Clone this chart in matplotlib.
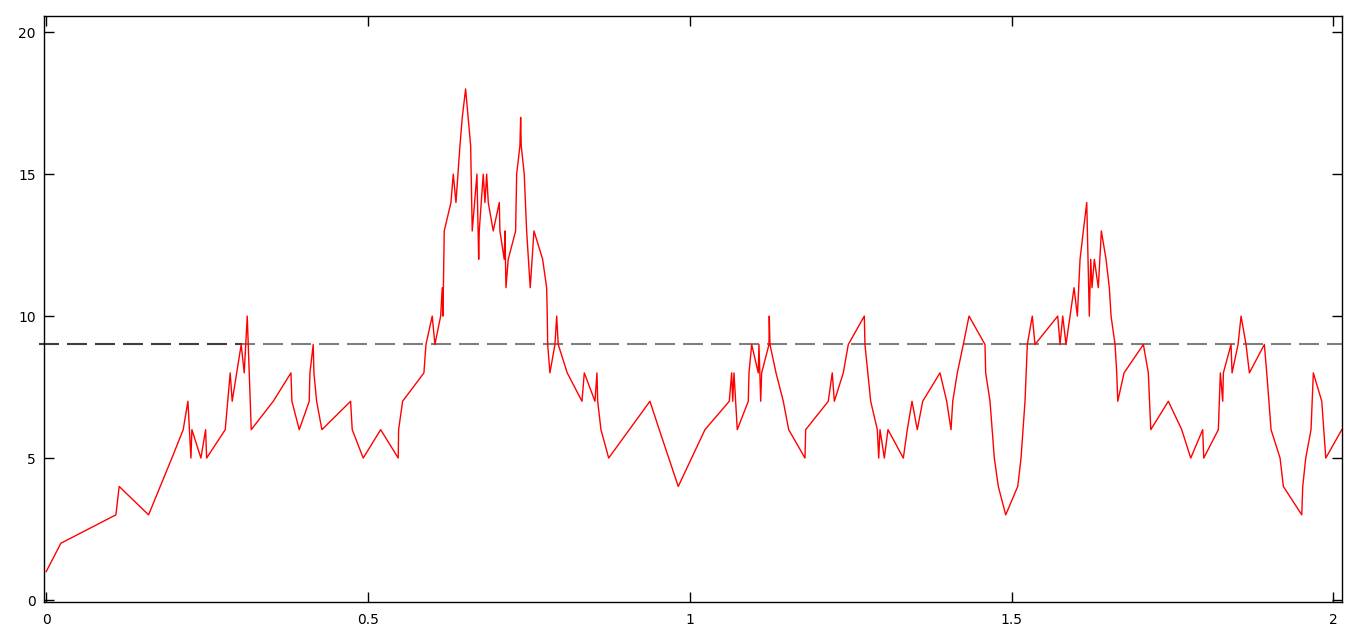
import matplotlib
matplotlib.use('Agg')
import matplotlib.pyplot as plt

# values
xs = [0.0, 0.0228, 0.1083, 0.1134, 0.1591, 0.1953, 0.2129, 0.2202, 0.2249, 0.2264,
      0.2404, 0.2477, 0.2493, 0.2782, 0.2859, 0.2890, 0.3030, 0.3077, 0.3124, 0.3186,
      0.3528, 0.3803, 0.3818, 0.3932, 0.4087, 0.4098, 0.4149, 0.4160, 0.4202, 0.4284,
      0.4730, 0.4755, 0.4926, 0.5197, 0.5470, 0.5476, 0.5538, 0.5869, 0.5901, 0.5998,
      0.6040, 0.6129, 0.6154, 0.6165, 0.6185, 0.6289, 0.6325, 0.6367, 0.6429, 0.6465,
      0.6517, 0.6595, 0.6620, 0.6693, 0.6720, 0.6729, 0.6791, 0.6817, 0.6844, 0.6869,
      0.6946, 0.7040, 0.7050, 0.7117, 0.7128, 0.7144, 0.7179, 0.7294, 0.7310, 0.7361,
      0.7372, 0.7381, 0.7428, 0.7465, 0.7521, 0.7579, 0.7714, 0.7776, 0.7786, 0.7792,
      0.7827, 0.7905, 0.7932, 0.7956, 0.8096, 0.8325, 0.8361, 0.8527, 0.8558, 0.8569,
      0.8620, 0.8740, 0.9381, 0.9526, 0.9821, 1.0236, 1.0614, 1.0651, 1.0667, 1.0687,
      1.0738, 1.0909, 1.0920, 1.0962, 1.1064, 1.1075, 1.1102, 1.1117, 1.1231, 1.1235,
      1.1246, 1.1340, 1.1453, 1.1537, 1.1790, 1.1801, 1.2152, 1.2214, 1.2246, 1.2385,
      1.2463, 1.2712, 1.2722, 1.2811, 1.2914, 1.2936, 1.2956, 1.3023, 1.3080, 1.3318,
      1.3380, 1.3453, 1.3535, 1.3619, 1.3888, 1.3992, 1.4059, 1.4086, 1.4157, 1.4250,
      1.4339, 1.4587, 1.4598, 1.4665, 1.4732, 1.4794, 1.4909, 1.5096, 1.5147, 1.5209,
      1.5245, 1.5322, 1.5364, 1.5717, 1.5753, 1.5795, 1.5846, 1.5908, 1.5971, 1.6022,
      1.6064, 1.6115, 1.6168, 1.6208, 1.6230, 1.6250, 1.6286, 1.6348, 1.6395, 1.6468,
      1.6519, 1.6546, 1.6608, 1.6634, 1.6650, 1.6748, 1.7048, 1.7125, 1.7163, 1.7436,
      1.7644, 1.7784, 1.7970, 1.7986, 1.8213, 1.8244, 1.8281, 1.8291, 1.8410, 1.8426,
      1.8519, 1.8566, 1.8643, 1.8695, 1.8928, 1.8965, 1.9032, 1.9172, 1.9223, 1.9509,
      1.9524, 1.9571, 1.9653, 1.9689, 1.9820, 1.9882, 2.0131]
ys = [1, 2, 3, 4, 3, 5, 6, 7, 5, 6,
      5, 6, 5, 6, 8, 7, 9, 8, 10, 6,
      7, 8, 7, 6, 7, 8, 9, 8, 7, 6,
      7, 6, 5, 6, 5, 6, 7, 8, 9, 10,
      9, 10, 11, 10, 13, 14, 15, 14, 16, 17,
      18, 16, 13, 15, 12, 13, 15, 14, 15, 14,
      13, 14, 13, 12, 13, 11, 12, 13, 15, 16,
      17, 16, 15, 13, 11, 13, 12, 11, 10, 9,
      8, 9, 10, 9, 8, 7, 8, 7, 8, 7,
      6, 5, 7, 6, 4, 6, 7, 8, 7, 8,
      6, 7, 8, 9, 8, 9, 7, 8, 9, 10,
      9, 8, 7, 6, 5, 6, 7, 8, 7, 8,
      9, 10, 9, 7, 6, 5, 6, 5, 6, 5,
      6, 7, 6, 7, 8, 7, 6, 7, 8, 9,
      10, 9, 8, 7, 5, 4, 3, 4, 5, 7,
      9, 10, 9, 10, 9, 10, 9, 10, 11, 10,
      12, 13, 14, 10, 12, 11, 12, 11, 13, 12,
      11, 10, 9, 8, 7, 8, 9, 8, 6, 7,
      6, 5, 6, 5, 6, 8, 7, 8, 9, 8,
      9, 10, 9, 8, 9, 8, 6, 5, 4, 3,
      4, 5, 6, 8, 7, 5, 6]

threshold = 9
x_lim = (-0.003, 2.014)
y_lim = (-0.08, 20.56)
x_ticks = [0, 0.5, 1, 1.5, 2]
x_labels = ['0', '0.5', '1', '1.5', '2']
y_ticks = [0, 5, 10, 15, 20]
dash_start = -0.0113
dark_end = 0.305

fig = plt.figure(figsize=(13.66, 6.36), dpi=100)
ax = fig.add_axes([0.0324, 0.053, 0.9503, 0.9214])

dash = (0, (9.6, 3.84))
ax.plot([dash_start, x_lim[1]], [threshold, threshold], color='black', alpha=0.5,
        lw=1.5, linestyle=dash, zorder=1, clip_on=False)
ax.plot([dash_start, dark_end], [threshold, threshold], color='black', alpha=0.5,
        lw=1.5, linestyle=dash, zorder=1, clip_on=False)
ax.plot(xs, ys, color='#ff0000', lw=1.0, zorder=2)

ax.set_xlim(x_lim)
ax.set_ylim(y_lim)
ax.set_xticks(x_ticks)
ax.set_xticklabels(x_labels)
ax.set_yticks(y_ticks)
ax.tick_params(direction='in', length=7, width=1, top=True, right=True,
               labelsize=10, colors='black')
ax.tick_params(axis='x', pad=8)
ax.tick_params(axis='y', pad=6)
for s in ax.spines.values():
    s.set_linewidth(1)

fig.savefig('out.png', dpi=100)
